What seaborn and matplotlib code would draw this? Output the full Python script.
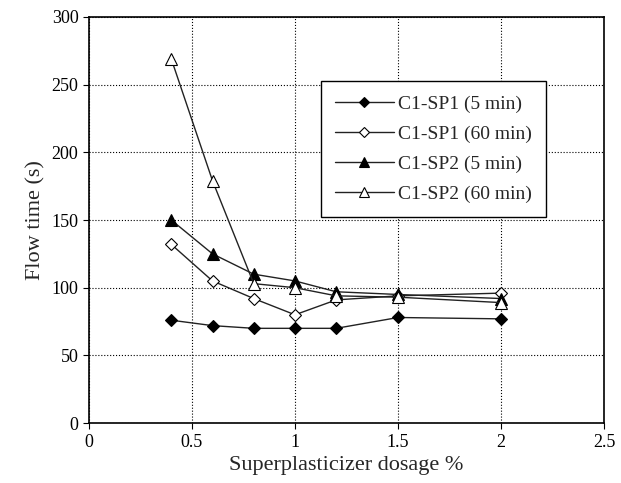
import pandas as pd
import matplotlib
matplotlib.use("Agg")
import matplotlib.pyplot as plt
import seaborn as sns

sns.set_style("white")
plt.rcParams['font.family'] = ['Liberation Serif', 'DejaVu Serif']

dosage = [0.4, 0.6, 0.8, 1.0, 1.2, 1.5, 2.0]
sp1_5 = [76, 72, 70, 70, 70, 78, 77]
sp1_60 = [132, 105, 92, 80, 91, 94, 96]
sp2_5 = [150, 125, 110, 105, 97, 95, 92]
sp2_60 = [269, 179, 103, 100, 94, 93, 89]

series = [
    ("C1-SP1 (5 min)", sp1_5, "D", "black", 6),
    ("C1-SP1 (60 min)", sp1_60, "D", "white", 6),
    ("C1-SP2 (5 min)", sp2_5, "^", "black", 8),
    ("C1-SP2 (60 min)", sp2_60, "^", "white", 8),
]

fig = plt.figure(figsize=(6.21, 4.83), dpi=100)
ax = fig.add_axes([0.143, 0.124, 0.830, 0.841])

for name, vals, mk, fc, ms in series:
    df = pd.DataFrame({"x": dosage, "y": vals})
    sns.lineplot(data=df, x="x", y="y", ax=ax, label=name, color="#222222",
                 linewidth=1.0, marker=mk, markersize=ms, markerfacecolor=fc,
                 markeredgecolor="black", markeredgewidth=0.8)

ax.set_xlim(0, 2.5)
ax.set_ylim(0, 300)
ax.set_xticks([0, 0.5, 1, 1.5, 2, 2.5])
ax.set_xticklabels(["0", "0.5", "1", "1.5", "2", "2.5"])
ax.set_yticks(range(0, 301, 50))
ax.grid(True, color="black", linestyle=":", linewidth=0.8)
for s in ax.spines.values():
    s.set_color("black")
    s.set_linewidth(1.2)
ax.tick_params(axis="both", direction="out", length=4, colors="black",
               labelsize=13, bottom=True, left=True)
ax.set_xlabel("Superplasticizer dosage %", fontsize=16)
ax.set_ylabel("Flow time (s)", fontsize=16)

leg = ax.legend(loc="upper left", bbox_to_anchor=(0.45, 0.842), fontsize=14,
                frameon=True, fancybox=False, edgecolor="black",
                handlelength=3.0, borderpad=0.75, labelspacing=0.62,
                handletextpad=0.2, markerscale=0.85, borderaxespad=0)
leg.get_frame().set_linewidth(1.0)
leg.get_frame().set_alpha(1)

fig.savefig("out.png", dpi=100)
